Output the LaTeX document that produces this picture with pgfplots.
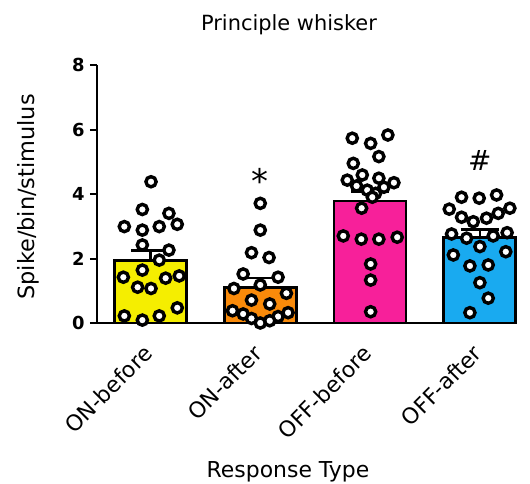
\documentclass[border=0pt]{standalone}
\usepackage{pgfplots}
\pgfplotsset{compat=1.18}
\usepackage{fontspec}
\setmainfont{DejaVu Sans}
\definecolor{cYel}{HTML}{F5EE00}
\definecolor{cOra}{HTML}{F98A0A}
\definecolor{cPin}{HTML}{F7209A}
\definecolor{cBlu}{HTML}{19AAF0}
\pgfplotstableread{
x y
0.005 4.38
-0.074 3.52
0.168 3.40
-0.238 2.99
-0.074 2.88
0.080 2.99
0.244 3.06
-0.074 2.42
0.168 2.26
0.080 1.95
-0.074 1.64
-0.247 1.42
0.138 1.39
0.262 1.46
-0.117 1.11
0.005 1.07
0.244 0.47
-0.238 0.22
-0.074 0.09
0.080 0.22
}\dotsA
\pgfplotstableread{
x y
1.000 3.71
1.000 2.88
0.920 2.18
1.080 2.03
0.844 1.52
1.162 1.42
1.000 1.18
0.760 1.07
1.238 0.92
0.920 0.71
1.086 0.59
0.747 0.38
0.844 0.28
1.253 0.32
1.162 0.20
0.920 0.14
1.000 0.00
1.086 0.07
}\dotsB
\pgfplotstableread{
x y
1.838 5.73
2.005 5.57
2.162 5.83
2.080 5.16
1.847 4.95
1.929 4.59
1.792 4.43
2.080 4.49
2.217 4.35
1.877 4.25
1.974 4.12
2.126 4.21
2.050 4.02
2.020 3.90
1.923 3.56
1.756 2.70
1.920 2.60
2.080 2.60
2.247 2.66
2.005 1.83
2.005 1.33
2.005 0.35
}\dotsC
\pgfplotstableread{
x y
2.833 3.90
2.994 3.87
3.152 3.97
2.721 3.53
3.273 3.56
2.833 3.28
2.940 3.14
3.060 3.25
3.167 3.40
2.742 2.76
2.879 2.63
3.121 2.70
3.248 2.80
3.000 2.37
2.758 2.11
3.236 2.21
2.909 1.77
3.076 1.80
3.000 1.25
3.076 0.77
2.909 0.32
}\dotsD
\begin{document}
\begin{tikzpicture}
\useasboundingbox (0,0) rectangle (530bp,484bp);
\begin{axis}[
  at={(97bp,161bp)}, anchor=south west,
  scale only axis, width=420bp, height=258bp,
  xmin=-0.487, xmax=3.338, ymin=0, ymax=8,
  axis x line*=bottom, axis y line*=left,
  axis line style={line width=2bp, black},
  ytick={0,2,4,6,8}, tick align=outside, major tick length=7bp,
  ytick style={line width=2bp, black},
  xtick={0,1,2,3}, xticklabels={ON-before,ON-after,OFF-before,OFF-after},
  xtick style={draw=none},
  /pgf/number format/assume math mode=true,
  yticklabel style={font=\fontsize{18}{18}\selectfont\bfseries, xshift=-2bp},
  xticklabel style={font=\fontsize{22}{22}\selectfont, rotate=45, anchor=east, xshift=-12bp, yshift=-12bp},
  clip=false,
]
\addplot[ybar, bar shift=0pt, bar width=72bp, fill=cYel, draw=black, line width=2.8bp] coordinates {(0,1.95)};
\addplot[ybar, bar shift=0pt, bar width=72bp, fill=cOra, draw=black, line width=2.8bp] coordinates {(1,1.09)};
\addplot[ybar, bar shift=0pt, bar width=72bp, fill=cPin, draw=black, line width=2.8bp] coordinates {(2,3.78)};
\addplot[ybar, bar shift=0pt, bar width=72bp, fill=cBlu, draw=black, line width=2.8bp] coordinates {(3,2.64)};
\pgfplotsset{dotstyle/.style={only marks, mark=*, mark size=5.1bp, mark options={fill=white, draw=black, line width=3.4bp}}}
\addplot[dotstyle] table[x=x,y=y] {\dotsA};
\addplot[dotstyle] table[x=x,y=y] {\dotsB};
\addplot[dotstyle] table[x=x,y=y] {\dotsC};
\addplot[dotstyle] table[x=x,y=y] {\dotsD};
\addplot[draw=none, mark=none, error bars/.cd, y dir=plus, y explicit,
  error bar style={line width=2.6bp, black},
  error mark options={rotate=90, mark size=19bp, line width=2.6bp, black}]
  coordinates {(0,1.95) +- (0,0.29) (1,1.09) +- (0,0.31) (2,3.78) +- (0,0.3) (3,2.64) +- (0,0.25)};
\node[font=\fontsize{34}{34}\selectfont] at (axis cs:1,4.42) {*};
\node[font=\fontsize{28}{28}\selectfont] at (axis cs:3,5.05) {\#};
\end{axis}
\node[font=\fontsize{21}{21}\selectfont] at (289bp,459bp) {Principle whisker};
\node[font=\fontsize{22.5}{22.5}\selectfont, rotate=90] at (28bp,287bp) {Spike/bin/stimulus};
\node[font=\fontsize{22}{22}\selectfont] at (288bp,12bp) {Response Type};
\end{tikzpicture}
\end{document}
